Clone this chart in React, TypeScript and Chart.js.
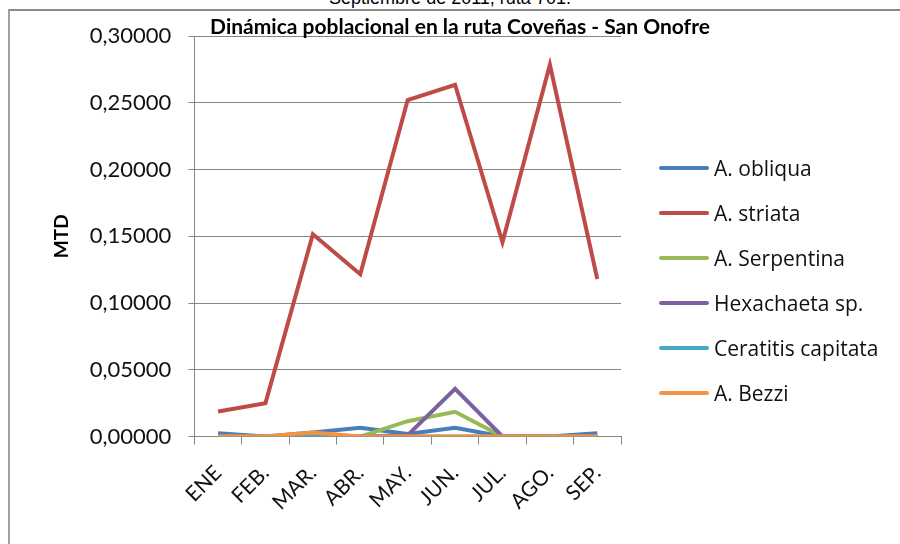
import React, { useEffect, useRef } from "react";
import { Chart, registerables } from "chart.js";

Chart.register(...registerables);

const months = ["ENE", "FEB.", "MAR.", "ABR.", "MAY.", "JUN.", "JUL.", "AGO.", "SEP."];
const obliqua = [0.0025, 0, 0.003, 0.0065, 0.002, 0.0065, 0, 0, 0.0025];
const striata = [0.0187, 0.025, 0.1515, 0.1215, 0.252, 0.2635, 0.1455, 0.2785, 0.118];
const serpentina = [0, 0, 0, 0, 0.0115, 0.0185, 0, 0, 0];
const hexachaeta = [0, 0, 0, 0, 0.001, 0.0357, 0, 0, 0];
const ceratitis = [0, 0, 0, 0, 0, 0, 0, 0, 0];
const bezzi = [0, 0, 0.003, 0, 0, 0, 0, 0, 0];
const seriesNames = ["A. obliqua", "A. striata", "A. Serpentina", "Hexachaeta sp.", "Ceratitis capitata", "A. Bezzi"];
const seriesColors = ["#4A7EBB", "#BE4B48", "#98B954", "#7D60A0", "#46AAC5", "#F69240"];
const chartTitle = "Dinámica poblacional en la ruta Coveñas - San Onofre";
const yTitle = "MTD";
const pageCaption = "Septiembre de 2011, ruta 701.";

const titlePlugin = {
  id: "customTitle",
  afterDraw(chart: any) {
    const ctx = chart.ctx;
    ctx.save();
    ctx.font = "bold 21px Lato, sans-serif";
    ctx.fillStyle = "#000";
    ctx.textAlign = "center";
    ctx.textBaseline = "alphabetic";
    ctx.fillText(chartTitle, chart.width / 2 + 10, 34);
    ctx.restore();
  },
};

export default function App() {
  const ref = useRef<HTMLCanvasElement | null>(null);
  useEffect(() => {
    if (!ref.current) return;
    const all = [obliqua, striata, serpentina, hexachaeta, ceratitis, bezzi];
    const chart = new Chart(ref.current, {
      type: "line",
      data: {
        labels: months,
        datasets: all.map((d, i) => ({
          label: seriesNames[i],
          data: d,
          borderColor: seriesColors[i],
          backgroundColor: seriesColors[i],
          borderWidth: 4,
          pointRadius: 0,
          tension: 0,
          order: 5 - i,
        })),
      },
      options: {
        responsive: false,
        animation: false,
        layout: { padding: { top: 36, left: 50, right: 279, bottom: 13 } },
        plugins: {
          legend: { display: false },
          tooltip: { enabled: false },
        },
        scales: {
          x: {
            offset: true,
            grid: { offset: true, drawOnChartArea: false, color: "#868686", tickLength: 8 },
            border: { color: "#868686", width: 1 },
            ticks: {
              maxRotation: 45,
              minRotation: 45,
              color: "#111",
              font: { family: "Lato, sans-serif", size: 21 },
              padding: 16,
            },
          },
          y: {
            min: 0,
            max: 0.3,
            ticks: {
              stepSize: 0.05,
              color: "#111",
              padding: 17,
              font: { family: "Lato, sans-serif", size: 22 },
              callback: (v: any) => Number(v).toFixed(5).replace(".", ","),
            },
            grid: { color: "#868686", tickLength: 6 },
            border: { color: "#868686", width: 1 },
            title: {
              display: true,
              text: yTitle,
              color: "#000",
              font: { family: "Lato, sans-serif", size: 19, weight: "bold" },
              padding: 0,
            },
          },
        },
      },
      plugins: [titlePlugin],
    });
    return () => chart.destroy();
  }, []);

  return (
    <div style={{ position: "absolute", left: 0, top: 0, width: 900, height: 544, overflow: "hidden", background: "#fff" }}>
      <div
        style={{
          position: "absolute",
          left: 0,
          top: -12,
          width: 900,
          textAlign: "center",
          font: "18px 'Liberation Sans', Arial, sans-serif",
          color: "#000",
        }}
      >
        {pageCaption}
      </div>
      <div
        style={{
          position: "absolute",
          left: 8,
          top: 9,
          width: 900,
          height: 600,
          borderLeft: "2px solid #a0a0a0",
          borderTop: "2px solid #8a8a8a",
        }}
      />
      <canvas ref={ref} width={900} height={544} style={{ position: "absolute", left: 0, top: 0, display: "block" }} />
      <div style={{ position: "absolute", left: 659, top: 145, width: 240 }}>
        {seriesNames.map((n, i) => (
          <div key={n} style={{ display: "flex", alignItems: "center", height: 45 }}>
            <div style={{ width: 50, height: 4, borderRadius: 2, background: seriesColors[i], flex: "none" }} />
            <span
              style={{
                marginLeft: 5,
                font: "21px 'Open Sans', sans-serif",
                color: "#111",
                whiteSpace: "nowrap",
              }}
            >
              {n}
            </span>
          </div>
        ))}
      </div>
    </div>
  );
}
